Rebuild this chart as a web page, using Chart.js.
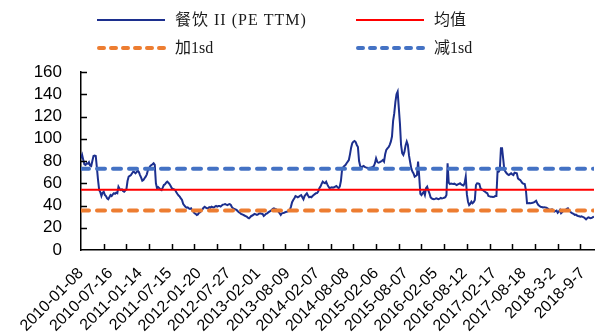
<!DOCTYPE html>
<html>
<head>
<meta charset="utf-8">
<script src="https://cdn.jsdelivr.net/npm/chart.js@4"></script>
<style>
  html, body { margin: 0; padding: 0; background: #ffffff; }
  #wrap { width: 595px; height: 335px; position: relative; }
</style>
</head>
<body>
<div id="wrap"><canvas id="chart" width="595" height="335"></canvas></div>
<script>
// Weekly PE (TTM) of the catering sector, from 2010-01-08 onward
const seriesName = '餐饮 II (PE TTM)';
const peTTM = [
  82.4, 85.4, 81, 77, 76.4, 78, 77.5, 79, 76, 75.5,
  80, 84.5, 84.8, 84.5, 74, 63, 54, 52, 48.5,
  51.5, 52.4, 49.5, 48.5, 46.5, 45.6, 47.5, 49.4, 48.5, 50,
  51, 50.5, 51.5, 51, 56.9, 55, 53.9, 54.5, 53, 52.4,
  53.5, 54.6, 62, 66, 66.5, 67.4, 69, 70.4, 70, 68.9,
  70, 71.3, 70, 67.4, 65, 62.3, 62.9, 64.5, 65.9,
  68, 71.9, 73.5, 75.5, 76.4, 77, 77.9, 76.5, 60, 55.5,
  56.5, 55.5, 54.5, 53.9, 56, 58.4, 59, 60.5, 61.4, 60.5,
  59.3, 57.5, 55.5, 55, 54.5, 53.9, 52, 50.3, 49, 48,
  46.4, 45, 41.5, 40, 38.9, 38, 38.3, 37.5, 37,
  37.5, 35.5, 34.5, 33, 32.5, 31.5, 32, 33.5, 34, 35.1,
  36.5, 38, 38.9, 38, 37.5, 37.5, 38.5, 38, 38.9, 38.5,
  38.3, 39, 39.6, 39, 39.5, 39.6, 39, 40, 40.8,
  41, 41.3, 40.8, 40.4, 41, 41.3, 40.5, 38.5, 37.5, 37,
  36.5, 36, 35, 34, 33.5, 32.5, 32, 31.5, 31, 30.5,
  30, 29, 28.5, 29.5, 30.6, 31, 31.8, 32.4, 32, 31.5,
  32, 32.8, 33, 32.5, 32.4, 30.6, 31.5, 32.5, 33,
  33.8, 34.5, 35.2, 36, 37, 37.5, 37, 36.6, 35.5, 34.5,
  33, 31.5, 33, 33.2, 33.5, 34, 34.3, 34.5, 35.2, 36,
  39, 43, 44.9, 46.5, 48.5, 48, 47.4, 48, 48.8, 49.4,
  47.5, 45.6, 48.5, 49.8, 51, 49, 47.4, 47.8, 47.4,
  48.5, 49.4, 50.2, 51, 51.2, 52.5, 55.5, 57, 59.5, 61.4,
  60.5, 60, 61.4, 59, 57, 55.5, 56, 56.4, 56, 56.4,
  57, 57.5, 56.5, 55.5, 56.9, 62, 71.9, 74.3, 75.5,
  76.4, 78, 79.4, 80.9, 86, 92, 96, 97.4, 98, 97,
  94.4, 92.5, 80, 75.5, 74.3, 75, 75.5, 74.8, 74.3, 74,
  73.6, 73.4, 74, 74.3, 74.8, 75.5, 78, 82.4, 79.4, 78.5,
  78.8, 79.4, 80, 80.9, 79.4, 86, 90, 91.4, 92.5,
  94.5, 97.4, 102, 116, 122.8, 133, 140, 142.3, 128, 113.9,
  94.4, 87, 85.4, 88.4, 94, 97.4, 94.4, 85, 79, 73.4,
  70.5, 68.9, 65.9, 66.5, 67.4, 79.4, 66, 50.5, 49.4, 51,
  52.4, 49.4, 55.5, 56.9, 53.5, 51, 47.5, 46.4, 45.8,
  45.6, 45.9, 46.4, 46.1, 45.7, 46.2, 46.8, 46.4, 46.6, 47,
  47.4, 49.4, 78, 60.5, 59.3, 59.8, 59.5, 59.3, 59.6, 59,
  58.4, 59, 59.5, 60, 59, 58.4, 58, 60, 65.9,
  50, 43.4, 40.4, 41.5, 43.4, 42, 43, 44.9, 58.4, 60,
  59.8, 59.3, 55.5, 54.5, 53.9, 53, 52.4, 51.5, 51, 48.5,
  48.2, 47.9, 47.9, 47.6, 47.9, 48.5, 48.5, 70.4, 70.4, 72,
  91.4, 91.4, 82, 72, 70.4, 68.9, 68, 67.4, 68.2,
  68.9, 68, 67.4, 69.5, 69.2, 68.9, 64.4, 63.5, 62.9, 61.5,
  60, 59.5, 59.3, 53.9, 42, 42, 42.3, 42, 42.2, 42.5,
  42.8, 43.5, 44.3, 42, 40.4, 39.5, 38.9, 38.6, 38.3, 38.5,
  38.3, 38, 37.5, 36.6, 36, 36.3, 36.6, 35.5, 34.5,
  35, 35.4, 33.5, 34.5, 36, 33, 34, 35.4, 35.7, 36,
  37, 37.5, 35.4, 34.5, 33.5, 33, 32.5, 31.5, 31.8, 31,
  30.6, 30.3, 30, 30.2, 29.8, 29.4, 28.5, 27.6, 28.5, 29.4,
  29, 28.5, 28.8, 29.5, 30
];

// Reference levels
const meanLabel = '均值';
const meanValue = 54.2;
const plusSdLabel = '加1sd';
const plusSdValue = 35.6;
const minusSdLabel = '减1sd';
const minusSdValue = 73.1;

// Date labels, one every 26 weeks
const tickLabels = [
  '2010-01-08', '2010-07-16', '2011-01-14', '2011-07-15', '2012-01-20', '2012-07-27',
  '2013-02-01', '2013-08-09', '2014-02-07', '2014-08-08', '2015-02-06', '2015-08-07',
  '2016-02-05', '2016-08-12', '2017-02-17', '2017-08-18', '2018-3-2', '2018-9-7'
];
const labelEvery = 26;
const tickMarkEvery = 20;

const lastIndex = peTTM.length - 1;
const NAVY = '#1c2f8e', RED = '#ff0000', ORANGE = '#ed7d31', BLUE = '#4472c4';
const SANS = '"Liberation Sans", Arial, sans-serif';
const SERIF = '"Liberation Serif", "Noto Sans CJK SC", serif';

const levelLine = v => [{ x: 0, y: v }, { x: lastIndex, y: v }];

// Inside tick marks on both axes plus the two-column legend
const decor = {
  id: 'decor',
  afterDraw(chart) {
    const { ctx, chartArea: a, scales: { x, y } } = chart;
    ctx.save();
    ctx.strokeStyle = '#000';
    ctx.lineWidth = 1.5;
    ctx.beginPath();
    for (let i = tickMarkEvery; i <= lastIndex; i += tickMarkEvery) {
      const px = Math.round(x.getPixelForValue(i)) + 0.5;
      ctx.moveTo(px, a.bottom); ctx.lineTo(px, a.bottom - 6);
    }
    for (let v = 20; v <= 160; v += 20) {
      const py = Math.round(y.getPixelForValue(v)) + 0.5;
      ctx.moveTo(a.left, py); ctx.lineTo(a.left + 6, py);
    }
    ctx.stroke();

    const items = [
      { text: seriesName, color: NAVY, width: 2, dash: [], x: 97, y: 20, spacing: '1px' },
      { text: meanLabel, color: RED, width: 2, dash: [], x: 356, y: 20, spacing: '0px' },
      { text: plusSdLabel, color: ORANGE, width: 4, dash: [5, 7], x: 97, y: 48, spacing: '0px' },
      { text: minusSdLabel, color: BLUE, width: 4, dash: [5, 7], x: 356, y: 48, spacing: '0px' }
    ];
    ctx.font = '16px ' + SERIF;
    ctx.textBaseline = 'middle';
    ctx.textAlign = 'left';
    items.forEach(it => {
      ctx.beginPath();
      ctx.strokeStyle = it.color;
      ctx.lineWidth = it.width;
      ctx.setLineDash(it.dash);
      ctx.lineCap = it.dash.length ? 'round' : 'butt';
      ctx.moveTo(it.x + (it.dash.length ? 2 : 0), it.y);
      ctx.lineTo(it.x + 68, it.y);
      ctx.stroke();
      ctx.setLineDash([]);
      ctx.fillStyle = '#1a1a1a';
      if ('letterSpacing' in ctx) ctx.letterSpacing = it.spacing;
      ctx.fillText(it.text, it.x + 78, it.y + 1);
    });
    ctx.restore();
  }
};

new Chart(document.getElementById('chart'), {
  type: 'line',
  data: {
    datasets: [
      { label: seriesName, data: peTTM.map((v, i) => ({ x: i, y: v })), borderColor: NAVY,
        borderWidth: 2, pointRadius: 0, tension: 0, order: 4 },
      { label: meanLabel, data: levelLine(meanValue), borderColor: RED, borderWidth: 2,
        pointRadius: 0, order: 3 },
      { label: plusSdLabel, data: levelLine(plusSdValue), borderColor: ORANGE, borderWidth: 4,
        borderDash: [8, 8], borderCapStyle: 'round', pointRadius: 0, order: 2 },
      { label: minusSdLabel, data: levelLine(minusSdValue), borderColor: BLUE, borderWidth: 4,
        borderDash: [8, 8], borderCapStyle: 'round', pointRadius: 0, order: 1 }
    ]
  },
  options: {
    responsive: false,
    animation: false,
    events: [],
    layout: { padding: { top: 72, right: 1, left: 0, bottom: 0 } },
    plugins: { legend: { display: false }, tooltip: { enabled: false } },
    scales: {
      x: {
        type: 'linear', min: 0, max: lastIndex,
        grid: { display: false, drawTicks: false },
        border: { display: true, color: '#000', width: 1.5 },
        ticks: {
          stepSize: labelEvery, includeBounds: false, autoSkip: false,
          maxRotation: 45, minRotation: 45,
          padding: 14, color: '#000', font: { family: SANS, size: 16 },
          callback: v => (v % labelEvery === 0 && tickLabels[v / labelEvery]) ? tickLabels[v / labelEvery] : ''
        },
        afterFit: s => { s.height = 85; s.paddingLeft = 0; s.paddingRight = 0; }
      },
      y: {
        min: 0, max: 160,
        grid: { display: false, drawTicks: false },
        border: { display: true, color: '#000', width: 1.5 },
        ticks: { stepSize: 20, autoSkip: false, padding: 19, color: '#000', font: { family: SANS, size: 17 } },
        afterFit: s => { s.width = 81; }
      }
    }
  },
  plugins: [decor]
});
</script>
</body>
</html>
